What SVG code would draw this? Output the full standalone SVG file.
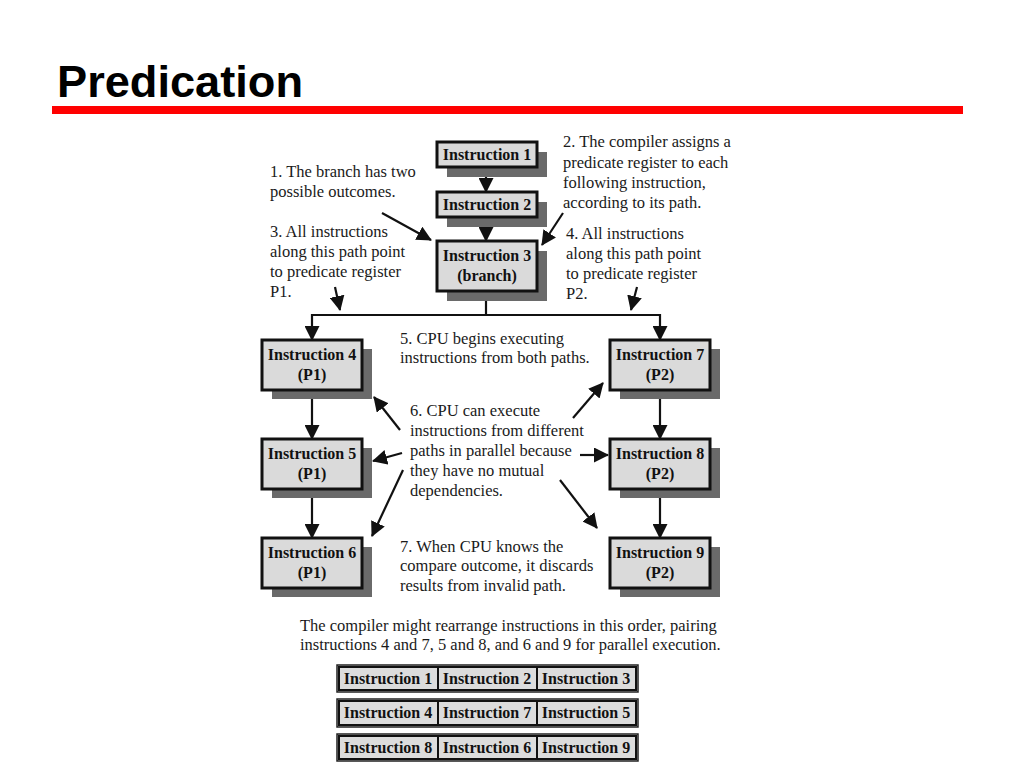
<svg xmlns="http://www.w3.org/2000/svg" width="1024" height="768" viewBox="0 0 1024 768">
<style>
.title{font-family:"Liberation Sans",Arial,sans-serif;font-weight:bold;font-size:45px;fill:#000}
.note{font-family:"Liberation Serif","Times New Roman",serif;font-size:16.5px;fill:#1a1a1a}
.lbl{font-family:"Liberation Serif","Times New Roman",serif;font-weight:bold;font-size:16px;fill:#111;text-anchor:middle}
.box{fill:#dadada;stroke:#111;stroke-width:3}
.shd{fill:#6a6a6a}
.ln{stroke:#111;stroke-width:2.2;fill:none}
.cell{fill:#dcdcdc;stroke:#222;stroke-width:1.5}
.cin{fill:none;stroke:#111;stroke-width:2}
</style>
<defs>
<marker id="ah" markerUnits="userSpaceOnUse" markerWidth="15" markerHeight="15" viewBox="0 0 15 15" refX="14" refY="7.5" orient="auto">
<path d="M0,0 L15,7.5 L0,15 Z" fill="#111"/>
</marker>
</defs>
<rect width="1024" height="768" fill="#fff"/>
<text class="title" x="57" y="97" textLength="246" lengthAdjust="spacingAndGlyphs">Predication</text>
<rect x="52" y="106" width="911" height="8" fill="#ff0000"/>

<g id="connectors">
<line class="ln" x1="486" y1="167" x2="486" y2="192" marker-end="url(#ah)"/>
<line class="ln" x1="486" y1="217" x2="486" y2="241" marker-end="url(#ah)"/>
<polyline class="ln" points="486,291 486,315"/>
<polyline class="ln" points="312,315 660,315"/>
<line class="ln" x1="312" y1="314" x2="312" y2="340" marker-end="url(#ah)"/>
<line class="ln" x1="660" y1="314" x2="660" y2="340" marker-end="url(#ah)"/>
<line class="ln" x1="312" y1="390" x2="312" y2="439" marker-end="url(#ah)"/>
<line class="ln" x1="312" y1="489" x2="312" y2="538" marker-end="url(#ah)"/>
<line class="ln" x1="660" y1="390" x2="660" y2="439" marker-end="url(#ah)"/>
<line class="ln" x1="660" y1="489" x2="660" y2="538" marker-end="url(#ah)"/>
<line class="ln" x1="382" y1="213" x2="431" y2="240" marker-end="url(#ah)"/>
<line class="ln" x1="563" y1="213" x2="542" y2="245" marker-end="url(#ah)"/>
<line class="ln" x1="335" y1="287" x2="340" y2="310" marker-end="url(#ah)"/>
<line class="ln" x1="637" y1="287" x2="631" y2="310" marker-end="url(#ah)"/>
<line class="ln" x1="400" y1="430" x2="374" y2="397" marker-end="url(#ah)"/>
<line class="ln" x1="402" y1="453" x2="373" y2="461" marker-end="url(#ah)"/>
<line class="ln" x1="403" y1="470" x2="372" y2="536" marker-end="url(#ah)"/>
<line class="ln" x1="573" y1="418" x2="603" y2="383" marker-end="url(#ah)"/>
<line class="ln" x1="580" y1="455" x2="608" y2="455" marker-end="url(#ah)"/>
<line class="ln" x1="560" y1="480" x2="597" y2="528" marker-end="url(#ah)"/>
</g>

<g id="n1"><rect class="shd" x="447" y="152" width="100" height="25"/><rect class="box" x="437" y="142" width="100" height="25"/><text class="lbl" x="487" y="160">Instruction 1</text></g>
<g id="n2"><rect class="shd" x="447" y="202" width="100" height="25"/><rect class="box" x="437" y="192" width="100" height="25"/><text class="lbl" x="487" y="210">Instruction 2</text></g>
<g id="n3"><rect class="shd" x="447" y="251" width="100" height="50"/><rect class="box" x="437" y="241" width="100" height="50"/><text class="lbl" x="487" y="261">Instruction 3</text><text class="lbl" x="487" y="281">(branch)</text></g>

<g id="n4"><rect class="shd" x="272" y="349" width="100" height="50"/><rect class="box" x="262" y="340" width="100" height="50"/><text class="lbl" x="312" y="360">Instruction 4</text><text class="lbl" x="312" y="380">(P1)</text></g>
<g id="n5"><rect class="shd" x="272" y="448" width="100" height="50"/><rect class="box" x="262" y="439" width="100" height="50"/><text class="lbl" x="312" y="459">Instruction 5</text><text class="lbl" x="312" y="479">(P1)</text></g>
<g id="n6"><rect class="shd" x="272" y="547" width="100" height="50"/><rect class="box" x="262" y="538" width="100" height="50"/><text class="lbl" x="312" y="558">Instruction 6</text><text class="lbl" x="312" y="578">(P1)</text></g>

<g id="n7"><rect class="shd" x="620" y="349" width="100" height="50"/><rect class="box" x="610" y="340" width="100" height="50"/><text class="lbl" x="660" y="360">Instruction 7</text><text class="lbl" x="660" y="380">(P2)</text></g>
<g id="n8"><rect class="shd" x="620" y="448" width="100" height="50"/><rect class="box" x="610" y="439" width="100" height="50"/><text class="lbl" x="660" y="459">Instruction 8</text><text class="lbl" x="660" y="479">(P2)</text></g>
<g id="n9"><rect class="shd" x="620" y="547" width="100" height="50"/><rect class="box" x="610" y="538" width="100" height="50"/><text class="lbl" x="660" y="558">Instruction 9</text><text class="lbl" x="660" y="578">(P2)</text></g>

<g id="notes">
<text class="note" x="270" y="177">1. The branch has two</text>
<text class="note" x="270" y="197">possible outcomes.</text>
<text class="note" x="563" y="147">2. The compiler assigns a</text>
<text class="note" x="563" y="168">predicate register to each</text>
<text class="note" x="563" y="188">following instruction,</text>
<text class="note" x="563" y="208">according to its path.</text>
<text class="note" x="270" y="237">3. All instructions</text>
<text class="note" x="270" y="257">along this path point</text>
<text class="note" x="270" y="277">to predicate register</text>
<text class="note" x="270" y="297">P1.</text>
<text class="note" x="566" y="239">4. All instructions</text>
<text class="note" x="566" y="259">along this path point</text>
<text class="note" x="566" y="279">to predicate register</text>
<text class="note" x="566" y="299">P2.</text>
<text class="note" x="400" y="344">5. CPU begins executing</text>
<text class="note" x="400" y="363">instructions from both paths.</text>
<text class="note" x="410" y="416">6. CPU can execute</text>
<text class="note" x="410" y="436">instructions from different</text>
<text class="note" x="410" y="456">paths in parallel because</text>
<text class="note" x="410" y="476">they have no mutual</text>
<text class="note" x="410" y="496">dependencies.</text>
<text class="note" x="400" y="552">7. When CPU knows the</text>
<text class="note" x="400" y="571">compare outcome, it discards</text>
<text class="note" x="400" y="591">results from invalid path.</text>
<text class="note" x="300" y="631">The compiler might rearrange instructions in this order, pairing</text>
<text class="note" x="300" y="650">instructions 4 and 7, 5 and 8, and 6 and 9 for parallel execution.</text>
</g>

<g id="table">
<rect class="cell" x="337" y="665" width="301" height="27"/>
<rect class="cell" x="337" y="699" width="301" height="28"/>
<rect class="cell" x="337" y="734" width="301" height="27"/>
<g id="r1">
<rect class="cin" x="339" y="667" width="99" height="23"/><rect class="cin" x="438" y="667" width="99" height="23"/><rect class="cin" x="537" y="667" width="99" height="23"/>
<text class="lbl" x="388" y="684">Instruction 1</text><text class="lbl" x="487" y="684">Instruction 2</text><text class="lbl" x="586" y="684">Instruction 3</text>
</g>
<g id="r2">
<rect class="cin" x="339" y="701" width="99" height="24"/><rect class="cin" x="438" y="701" width="99" height="24"/><rect class="cin" x="537" y="701" width="99" height="24"/>
<text class="lbl" x="388" y="718">Instruction 4</text><text class="lbl" x="487" y="718">Instruction 7</text><text class="lbl" x="586" y="718">Instruction 5</text>
</g>
<g id="r3">
<rect class="cin" x="339" y="736" width="99" height="23"/><rect class="cin" x="438" y="736" width="99" height="23"/><rect class="cin" x="537" y="736" width="99" height="23"/>
<text class="lbl" x="388" y="753">Instruction 8</text><text class="lbl" x="487" y="753">Instruction 6</text><text class="lbl" x="586" y="753">Instruction 9</text>
</g>
</g>
</svg>
